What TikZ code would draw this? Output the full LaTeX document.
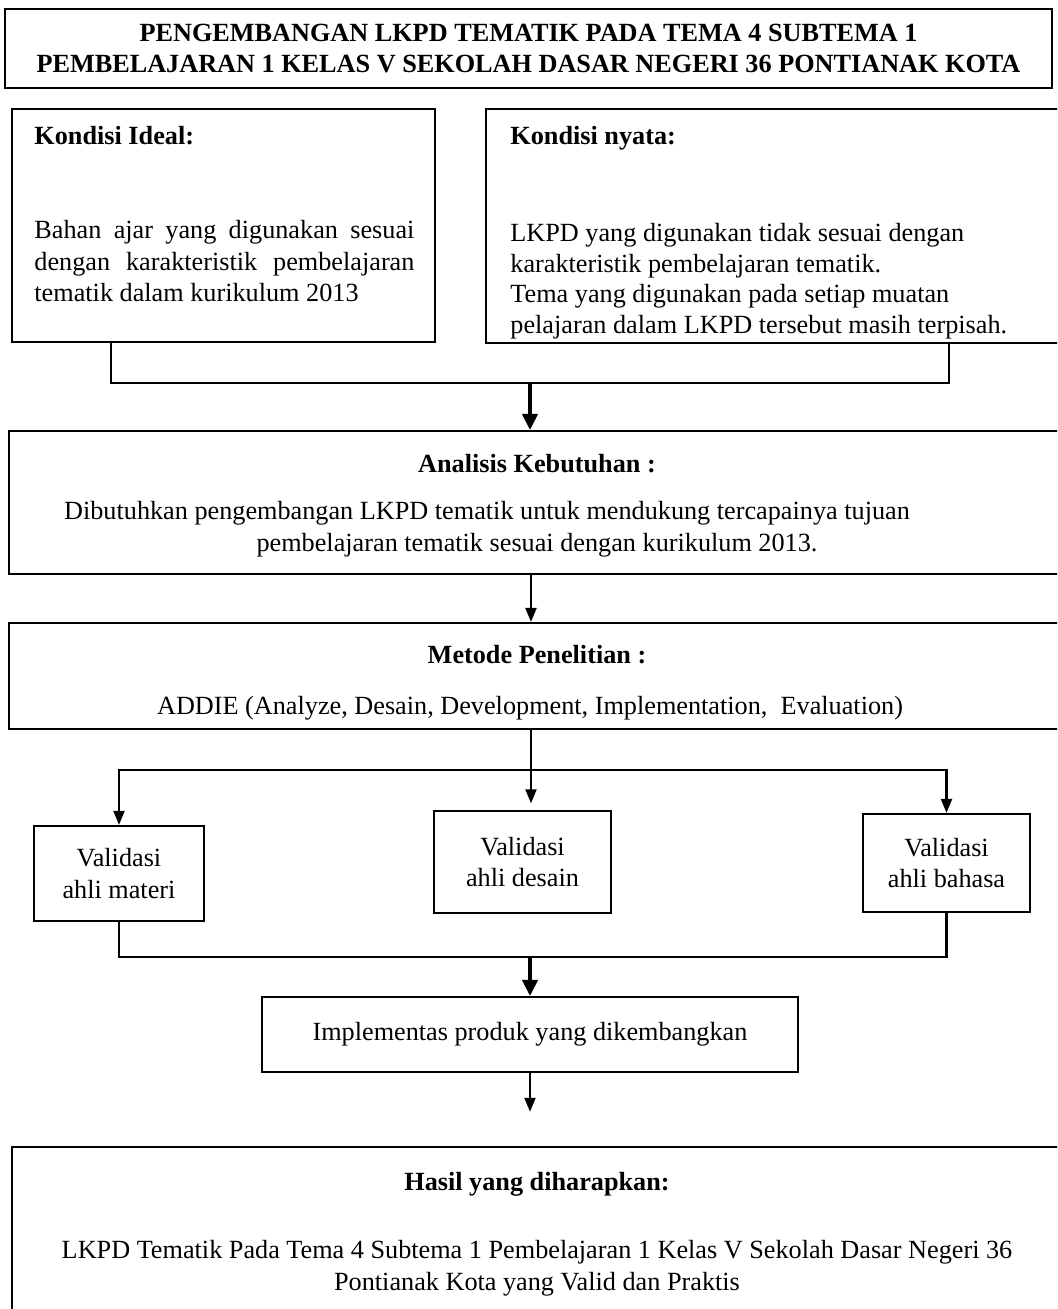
\documentclass[tikz,border=0pt]{standalone}
\usepackage{fontspec}
\setmainfont{Liberation Serif}
\usetikzlibrary{arrows.meta}
\newcommand\pxu{0.4575pt}

\begin{document}
\begin{tikzpicture}[
        x=\pxu, y=-\pxu, % one pixel, y grows downward
        txt/.style={inner sep=0pt, font=\fontsize{12pt}{14.4pt}\selectfont},
        head/.style={inner sep=0pt, font=\fontsize{12pt}{14.4pt}\selectfont\bfseries},
        box/.style={draw, line width=1pt, inner sep=0pt}, % frames
        link/.style={draw, line width=1pt},
        arrow/.style={link, -{Triangle[length=6.4pt, width=5pt]}},
        bigarrow/.style={draw, line width=1.5pt, -{Triangle[length=7.3pt, width=7pt]}},
    ]
    \clip (0,0) rectangle (1057,1309);

    % title
    \node[box, head, align=center, minimum width=1047*\pxu, minimum height=79*\pxu] (title) at (528.5,48.5)
        {PENGEMBANGAN LKPD TEMATIK PADA TEMA 4 SUBTEMA 1\\ PEMBELAJARAN 1 KELAS V SEKOLAH DASAR NEGERI 36 PONTIANAK KOTA};

    % kondisi
    \node[box, minimum width=423*\pxu, minimum height=233*\pxu] (ideal) at (223.5,225.5) {};
    \node[box, minimum width=579*\pxu, minimum height=234*\pxu] (nyata) at (775.5,226) {};
    \node[head, anchor=base west] (idealhead) at (34,144) {Kondisi Ideal:};
    \node[txt, anchor=north west, text width=173.85pt, align=justify] (idealtext) at (34,220)
        {Bahan ajar yang digunakan sesuai\linebreak dengan karakteristik pembelajaran\linebreak tematik dalam kurikulum 2013};
    \node[head, anchor=base west] (nyatahead) at (510,144) {Kondisi nyata:};
    \node[txt, anchor=north west, align=left, font=\fontsize{12pt}{14pt}\selectfont] (nyatatext) at (510,223)
        {LKPD yang digunakan tidak sesuai dengan\\ karakteristik pembelajaran tematik.\\ Tema yang digunakan pada setiap muatan\\ pelajaran dalam LKPD tersebut masih terpisah.};

    % analisis
    \node[box, minimum width=1056*\pxu, minimum height=143*\pxu] (analisis) at (537,502.5) {};
    \node[head, anchor=base] (anahead) at (537,472) {Analisis Kebutuhan :};
    \node[txt, anchor=north, align=center] (anatext) at (537,501)
        {Dibutuhkan pengembangan LKPD tematik untuk mendukung tercapainya tujuan\hspace*{45.75pt}\\ pembelajaran tematik sesuai dengan kurikulum 2013.};

    % metode
    \node[box, minimum width=1056*\pxu, minimum height=106*\pxu] (metode) at (537,676) {};
    \node[head, anchor=base] (methead) at (537,663) {Metode Penelitian :};
    \node[txt, anchor=base] (mettext) at (530,714) {ADDIE (Analyze, Desain, Development, Implementation,\ \ Evaluation)};

    % validasi
    \node[box, txt, align=center, minimum width=170*\pxu, minimum height=95*\pxu] (materi) at (119,873.5) {Validasi\\ ahli materi};
    \node[box, txt, align=center, minimum width=177*\pxu, minimum height=102*\pxu] (desain) at (522.5,862) {Validasi\\ ahli desain};
    \node[box, txt, align=center, minimum width=167*\pxu, minimum height=98*\pxu] (bahasa) at (946.5,863) {Validasi\\ ahli bahasa};

    \node[box, txt, minimum width=536*\pxu, minimum height=75*\pxu] (impl) at (530,1034.5) {Implementas produk yang dikembangkan};

    % hasil
    \node[box, minimum width=1053*\pxu, minimum height=173*\pxu] (hasil) at (538.5,1233.5) {};
    \node[head, anchor=base] (hasilhead) at (537,1190) {Hasil yang diharapkan:};
    \node[txt, anchor=north, align=center] (hasiltext) at (537,1240)
        {LKPD Tematik Pada Tema 4 Subtema 1 Pembelajaran 1 Kelas V Sekolah Dasar Negeri 36\\ Pontianak Kota yang Valid dan Praktis};

    % connectors
    \coordinate (ja) at (111,383);
    \coordinate (jm) at (530,383);
    \coordinate (jb) at (949,383);
    \coordinate (axis) at (531,0);
    \coordinate (sm) at (531,770);
    \coordinate (mm) at (530,957);

    \draw[link] (ideal.south -| ja) |- (jb) -- (nyata.south -| jb);
    \draw[bigarrow] (jm) -- (analisis.north -| jm);
    \draw[arrow] (analisis.south -| axis) -- (metode.north -| axis);
    \draw[link] (metode.south -| axis) -- (sm);
    \draw[arrow] (sm) -- ([yshift=3pt]desain.north -| sm);
    \draw[arrow] (sm) -| (materi.north);
    \draw[arrow] (sm) -| (bahasa.north);
    \draw[link] (materi.south) |- (mm) -| (bahasa.south);
    \draw[bigarrow] (mm) -- (impl.north);
    \draw[arrow, shorten >=15.6pt] (impl.south) -- (hasil.north -| impl.south);
\end{tikzpicture}
\end{document}
